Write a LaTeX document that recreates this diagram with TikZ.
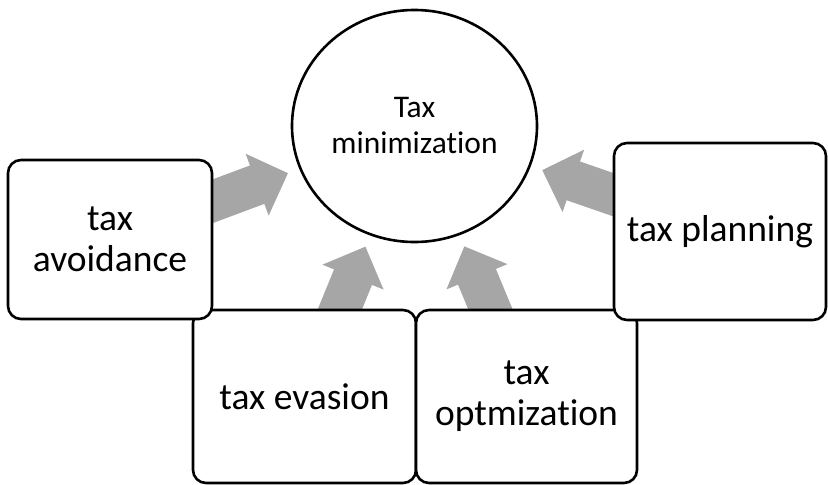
\documentclass[tikz,border=0pt]{standalone}
\usepackage{fontspec}
\setmainfont{Carlito}[Ligatures=NoCommon]
\usetikzlibrary{arrows.meta,backgrounds,shapes.geometric}
\definecolor{arrowgray}{HTML}{A6A6A6}
\begin{document}
\begin{tikzpicture}[x=1pt,y=-1pt,
  box/.style={draw=black, fill=white, line width=2.6pt, rounded corners=13pt,
    align=center, inner sep=0pt, font=\fontsize{37.5}{41}\selectfont},
  hub/.style={draw=black, fill=white, line width=2.6pt, ellipse, inner sep=0pt,
    minimum width=245pt, minimum height=232pt, align=center,
    font=\fontsize{31.5}{36}\selectfont},
  bigarrow/.style={draw=arrowgray, line width=41pt,
    -{Triangle[width=64pt,length=33pt]}, shorten >=12pt, shorten <=-24pt}]
\useasboundingbox (0,0) rectangle (828,485);
\node[hub] (min) at (414.5,126) {Tax\\minimization};
\node[box, minimum width=223pt, minimum height=173pt] (evas) at (304.5,396.5) {tax evasion};
\node[box, minimum width=221pt, minimum height=173pt] (opt) at (526.5,396.5) {tax\\optmization};
\node[box, minimum width=204pt, minimum height=159pt] (avoid) at (110,239.5) {tax\\avoidance};
\node[box, minimum width=212pt, minimum height=177pt] (plan) at (720,231.5) {tax planning};
\begin{pgfonlayer}{background}
  \draw[bigarrow] (avoid) -- (min);
  \draw[bigarrow] (plan) -- (min);
  \draw[bigarrow] (evas) -- (min);
  \draw[bigarrow] (opt) -- (min);
\end{pgfonlayer}
\end{tikzpicture}
\end{document}
